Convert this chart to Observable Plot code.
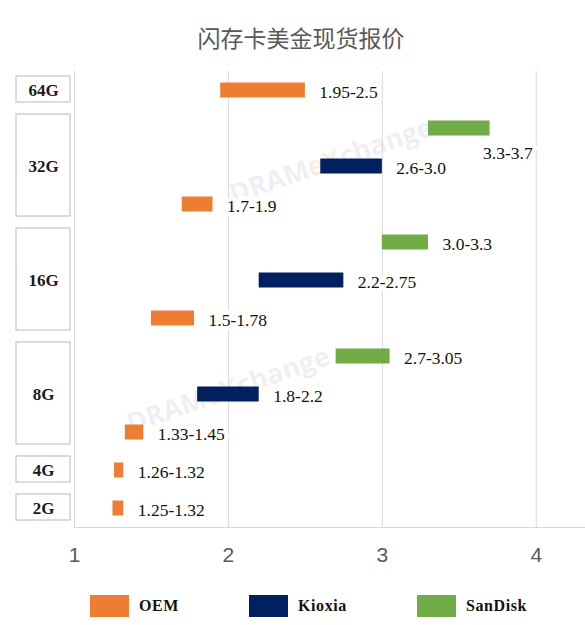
<!DOCTYPE html>
<html>
<head>
<meta charset="utf-8">
<script src="https://cdn.jsdelivr.net/npm/d3@7"></script>
<script src="https://cdn.jsdelivr.net/npm/@observablehq/plot@0.6"></script>
<style>
  html, body { margin: 0; padding: 0; background: #fff; }
  #wrap { width: 585px; height: 625px; overflow: hidden; }
  #title { height: 60px; line-height: 74px; text-align: center; padding-left: 17px; box-sizing: border-box;
           font-family: "Noto Sans CJK SC", "Noto Sans", sans-serif; font-size: 23px; color: #595959; }
  #chart svg { display: block; }
  #legend { height: 50px; display: flex; align-items: flex-start; padding-left: 90px; padding-top: 20px; box-sizing: border-box; }
  .item { display: flex; align-items: center; margin-right: 70px; }
  .sw { width: 39px; height: 22px; }
  .lb { margin-left: 10px; font-family: "Liberation Serif", serif; font-weight: bold; font-size: 16px; letter-spacing: 0.6px; color: #111; }
</style>
</head>
<body>
<div id="wrap">
  <div id="title">闪存卡美金现货报价</div>
  <div id="chart"></div>
  <div id="legend"></div>
</div>
<script>
// ---- data ----
const capacities = ["64G", "32G", "16G", "8G", "4G", "2G"];
const rowGroups  = ["64G", "32G", "32G", "32G", "16G", "16G", "16G", "8G", "8G", "8G", "4G", "2G"];
const rowMakers  = ["OEM", "SanDisk", "Kioxia", "OEM", "SanDisk", "Kioxia", "OEM", "SanDisk", "Kioxia", "OEM", "OEM", "OEM"];
const lows       = [1.95, 3.3, 2.6, 1.7, 3.0, 2.2, 1.5, 2.7, 1.8, 1.33, 1.26, 1.25];
const highs      = [2.5, 3.7, 3.0, 1.9, 3.3, 2.75, 1.78, 3.05, 2.2, 1.45, 1.32, 1.32];
const priceLabels = ["1.95-2.5", "3.3-3.7", "2.6-3.0", "1.7-1.9", "3.0-3.3", "2.2-2.75", "1.5-1.78",
                     "2.7-3.05", "1.8-2.2", "1.33-1.45", "1.26-1.32", "1.25-1.32"];
const makerNames  = ["OEM", "Kioxia", "SanDisk"];
const makerColors = ["#ED7D31", "#002060", "#70AD47"];
const xTicks = [1, 2, 3, 4];
const belowLabels = ["3.3-3.7"]; // label drawn under its bar in the source

const rows = lows.map((low, i) => ({
  row: i, group: rowGroups[i], maker: rowMakers[i], low, high: highs[i], label: priceLabels[i]
}));
const groups = capacities.map(name => ({
  name,
  first: rowGroups.indexOf(name),
  last: rowGroups.lastIndexOf(name)
}));

const serif = "Liberation Serif, Times New Roman, serif";

function watermark(index, scales, values, dims) {
  const g = d3.create("svg:g").attr("pointer-events", "none");
  const spots = [[0.566, 0.195], [0.39, 0.64]];
  for (const [fx, fy] of spots) {
    const t = g.append("text")
      .attr("transform", `translate(${dims.width * fx},${dims.height * fy}) rotate(-19)`)
      .attr("text-anchor", "middle").attr("dy", "0.35em")
      .attr("font-family", "Open Sans, sans-serif").attr("font-weight", "bold")
      .attr("font-size", 27).attr("fill-opacity", 0.28);
    t.append("tspan").attr("fill", "#c3c9de").text("DRAM");
    t.append("tspan").attr("fill", "#f3c37e").text("eX");
    t.append("tspan").attr("fill", "#c3c9de").text("change");
  }
  return g.node();
}

const chart = Plot.plot({
  width: 585,
  height: 515,
  marginTop: 11,
  marginBottom: 48,
  marginLeft: 74,
  marginRight: 0,
  x: { domain: [1, 4.32], axis: null },
  y: { domain: [rows.length - 0.5, -0.5], axis: null },
  color: { domain: makerNames, range: makerColors },
  marks: [
    watermark,
    Plot.ruleX(xTicks, { stroke: "#d9d9d9", strokeWidth: 1 }),
    Plot.ruleY([rows.length - 0.5], { stroke: "#d9d9d9", strokeWidth: 1.2 }),
    Plot.rect(rows, {
      x1: "low", x2: "high",
      y1: d => d.row - 0.5, y2: d => d.row + 0.5,
      insetTop: 11.5, insetBottom: 11.5,
      fill: "maker"
    }),
    Plot.text(rows, {
      filter: d => !belowLabels.includes(d.label),
      x: "high", y: "row", text: "label",
      textAnchor: "start", dx: 14, dy: 2,
      fontFamily: serif, fontSize: 17.5, fill: "#111",
      stroke: "white", strokeWidth: 9, paintOrder: "stroke"
    }),
    Plot.text(rows, {
      filter: d => belowLabels.includes(d.label),
      x: "high", y: "row", text: "label",
      textAnchor: "start", dx: -7, dy: 25,
      fontFamily: serif, fontSize: 17.5, fill: "#111",
      stroke: "white", strokeWidth: 9, paintOrder: "stroke"
    }),
    Plot.rect(groups, {
      x1: xTicks[0], x2: xTicks[0],
      y1: d => d.first - 0.5, y2: d => d.last + 0.5,
      insetLeft: -58, insetRight: 4, insetTop: 5, insetBottom: 7,
      fill: "white", stroke: "#d0d0d0", strokeWidth: 1.5
    }),
    Plot.text(groups, {
      x: xTicks[0], y: d => (d.first + d.last) / 2,
      dx: -31, dy: 0,
      text: "name", fontFamily: serif, fontWeight: "bold", fontSize: 17, fill: "#1a1a1a"
    }),
    Plot.axisX(xTicks, {
      tickSize: 0, tickPadding: 20, fontSize: 21,
      fontFamily: "Liberation Sans, Arial, sans-serif", color: "#595959", fill: "#595959",
      tickFormat: d => String(d)
    })
  ]
});
document.getElementById("chart").appendChild(chart);

const legend = d3.select("#legend");
makerNames.forEach((name, i) => {
  const it = legend.append("div").attr("class", "item");
  it.append("div").attr("class", "sw").style("background", makerColors[i]);
  it.append("div").attr("class", "lb").text(name);
});
</script>
</body>
</html>
